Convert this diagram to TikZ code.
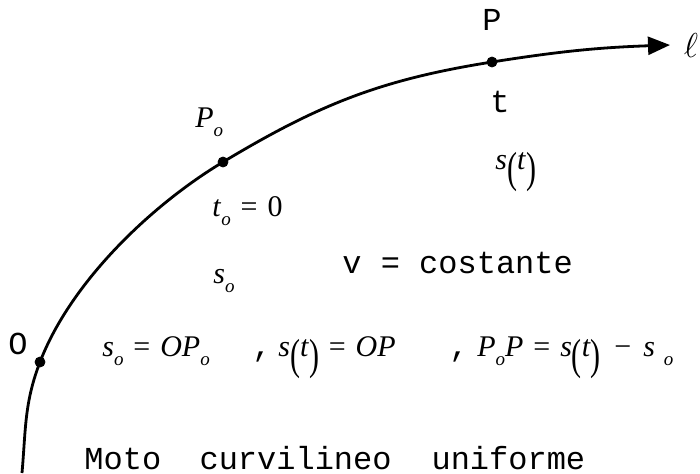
\documentclass[tikz,border=0pt]{standalone}
\usepackage{fontspec}
\setmainfont{Liberation Serif}
\setmonofont{Liberation Mono}
\usetikzlibrary{arrows.meta}

\newcommand{\mi}[1]{\textit{#1}}
\newcommand{\low}[1]{\raisebox{-0.32em}{\fontsize{9.5}{10}\selectfont\itshape #1}}
\newcommand{\bpar}[1]{\raisebox{-0.45em}{\scalebox{1}[1.45]{(}}\mi{#1}\raisebox{-0.45em}{\scalebox{1}[1.45]{)}}}
\newcommand{\eqs}{\hspace{0.33em}=\hspace{0.33em}}

\tikzset{
  mth/.style={inner sep=0pt, font=\fontsize{15}{18}\selectfont},
  mono/.style={inner sep=0pt, font=\fontsize{16}{18}\selectfont\ttfamily},
}

\begin{document}
\begin{tikzpicture}[x=0.5pt, y=0.5pt]
\useasboundingbox (0,0) rectangle (700,-473);

\coordinate (start) at (22,-473);
\coordinate (tip) at (670,-45);
\filldraw (40,-362) coordinate (o) circle (2.5pt);
\filldraw (223,-162) coordinate (po) circle (2.5pt);
\filldraw (492,-62) coordinate (p) circle (2.5pt);

\draw [line width=1.4pt, -{Triangle[length=11pt,width=9pt]}] (start)
  to[out=85,in=249] (o) to[out=69,in=211,looseness=0.8] (po)
  to[out=31,in=189] (p) to[out=9,in=182] (tip);

\node [inner sep=0pt, font=\fontsize{16}{18}\selectfont] (ell) at (691,-45) {$\ell$};

% labels on the curve
\node [mono, anchor=base] (lo) at (18,-354) {O};
\node [mth, anchor=base west] (lpo) at (195,-127) {\mi{P}\low{o}};
\node [mono, anchor=base] (lp) at (492,-30) {P};
\node [mth, anchor=base west] (lto) at (212,-216) {\mi{t}\low{o}\eqs 0};
\node [mono, anchor=base] (lt) at (500,-112) {t};
\node [mth, anchor=base west] (lso) at (213,-283) {\mi{s}\low{o}};
\node [mth, anchor=base west] (lst) at (495,-169) {\mi{s}\bpar{t}};
\node [mono, anchor=base west] (vel) at (342,-273) {v = costante};

% relations
\node [mth, anchor=base west] (eqso) at (102,-356) {\mi{s}\low{o}\eqs\mi{OP}\low{o}};
\node [mono, anchor=base] (c1) at (262,-356) {,};
\node [mth, anchor=base west] (eqst) at (278,-356) {\mi{s}\bpar{t}\eqs\mi{OP}};
\node [mono, anchor=base] (c2) at (459,-356) {,};
\node [mth, anchor=base west] (eqpp) at (477,-356)
  {\mi{P}\low{o}\mi{P}\eqs\mi{s}\bpar{t}\hspace{0.45em}−\hspace{0.4em}\mi{s}\hspace{0.3em}\low{o}};

\node [mono, anchor=base west] (title) at (84,-469) {Moto\hspace{1.2em}curvilineo\hspace{1.25em}uniforme};

\end{tikzpicture}
\end{document}
